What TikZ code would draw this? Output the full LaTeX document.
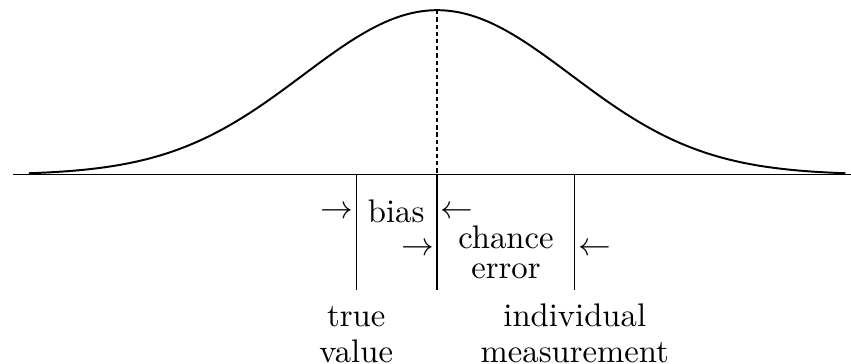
\documentclass[tikz,border=0pt]{standalone}
\usepackage{amsmath,amssymb}
\usepackage{tikz}
\usetikzlibrary{positioning,calc}

\begin{document}
\begin{tikzpicture}[
  every node/.style={align=center},
  lbl/.style={align=center, inner sep=1pt, font={\fontsize{10}{9.2}\selectfont}},
  botlbl/.style={align=center, inner sep=1pt, font={\fontsize{10}{11}\selectfont}},
  arrtxt/.style={inner sep=0.8pt},
  bell/.style={semithick, smooth, samples=120},
]
  \useasboundingbox (-4.70,-2.03) rectangle (4.45,1.88);

  % Axis and normal curve
  \coordinate (axl) at (-4.56,0);
  \coordinate (axr) at (4.45,0);
  \draw (axl) -- (axr);
  \draw[bell, domain=-4.39:4.39] plot (\x, {1.77*exp(-0.5*(\x/1.44)^2)});

  % Lines: true value, centre, individual measurement
  \coordinate (peak) at (0,1.77);
  \coordinate (mu)   at (0,0);
  \coordinate (mub)  at (0,-1.24);
  \coordinate (tv)   at (-0.87,0);
  \coordinate (tvb)  at (-0.87,-1.24);
  \coordinate (im)   at (1.48,0);
  \coordinate (imb)  at (1.48,-1.24);
  \draw[dash pattern=on 1.3pt off 0.9pt] (peak) -- (mu);
  \draw (mu) -- (mub);
  \draw (tv) -- (tvb);
  \draw (im) -- (imb);

  % Labels between the lines
  \node[lbl] (bias) at (-0.44,-0.39) {bias};
  \node[lbl] (chance) at (0.74,-0.83) {chance\\error};
  \node[arrtxt, anchor=east] (biasl) at (-0.87,-0.40) {$\rightarrow$};
  \node[arrtxt, anchor=west] (biasr) at (0,-0.40) {$\leftarrow$};
  \node[arrtxt, anchor=east] (chl) at (0,-0.80) {$\rightarrow$};
  \node[arrtxt, anchor=west] (chr) at (1.48,-0.80) {$\leftarrow$};

  % Labels under the lines
  \node[botlbl] (truev) at (-0.87,-1.72) {true\\value};
  \node[botlbl] (indiv) at (1.48,-1.705) {individual\\measurement};
\end{tikzpicture}
\end{document}
